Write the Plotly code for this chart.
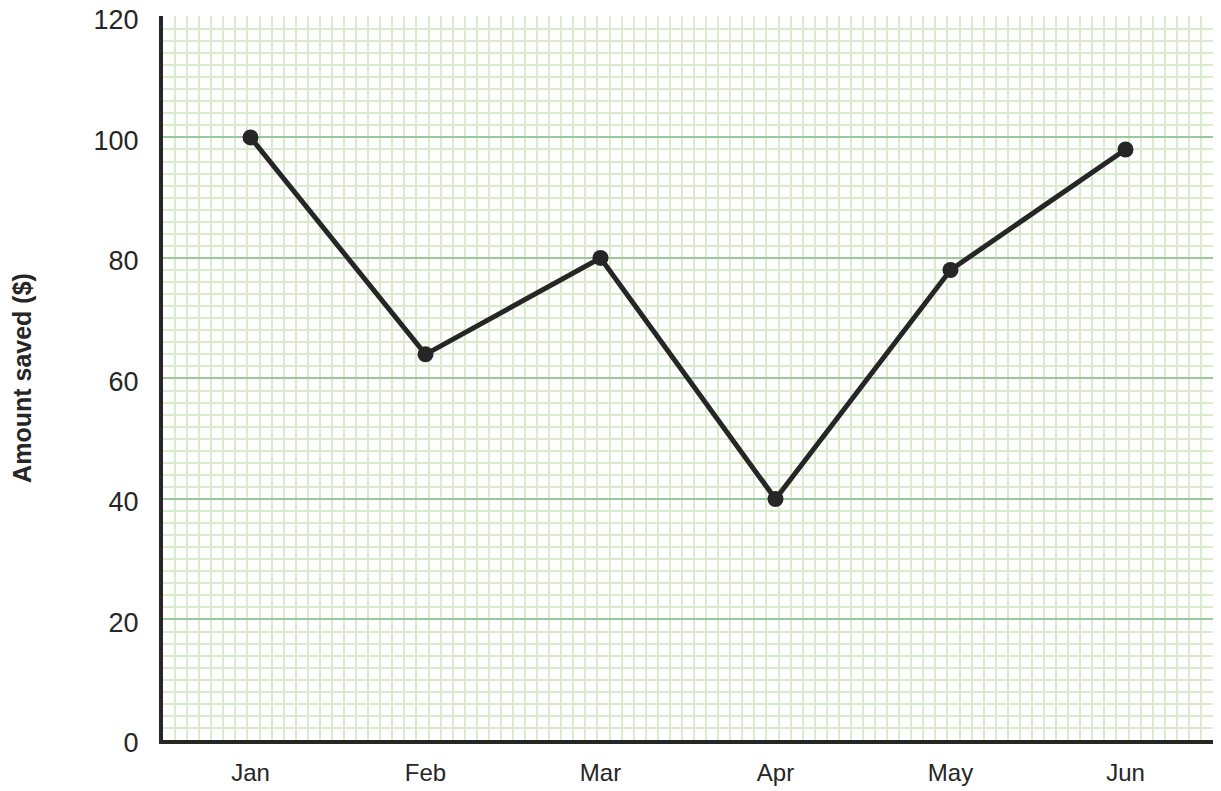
import plotly.graph_objects as go

months = ["Jan", "Feb", "Mar", "Apr", "May", "Jun"]
saved = [100, 64, 80, 40, 78, 98]
y_ticks = [0, 20, 40, 60, 80, 100, 120]

xs = list(range(len(months)))

fig = go.Figure()
fig.add_trace(go.Scatter(
    x=xs, y=saved, mode="lines+markers",
    line=dict(color="#262626", width=5),
    marker=dict(color="#262626", size=16),
    showlegend=False, cliponaxis=False,
))

# page body has an 8px default margin, so the figure is sized to fit the window
fig.update_layout(
    template="none",
    width=1213, height=783,
    margin=dict(l=155, r=8, t=8, b=51, autoexpand=False),
    paper_bgcolor="white", plot_bgcolor="white",
    font=dict(family="Liberation Sans, Arial, sans-serif", color="#262626"),
    xaxis=dict(
        range=[-0.5, 5.5], tickvals=xs, ticktext=months,
        showgrid=False, zeroline=False, automargin=False,
        showline=True, linecolor="#262626", linewidth=4,
        ticks="", ticklabelstandoff=8,
        tickfont=dict(size=24),
        minor=dict(showgrid=True, gridcolor="#d9ebcc", gridwidth=2,
                   tick0=-0.5, dtick=6/87),
    ),
    yaxis=dict(
        range=[0, 120.15], tickvals=y_ticks,
        showgrid=True, gridcolor="#9cc79a", gridwidth=2,
        zeroline=False, automargin=False,
        showline=True, linecolor="#262626", linewidth=4,
        ticks="", ticklabelstandoff=15, ticklabeloverflow="allow",
        ticklabelshift=3,
        tickfont=dict(size=27),
        minor=dict(showgrid=True, gridcolor="#d9ebcc", gridwidth=2, dtick=2, tick0=0),
        title=dict(text="<b>Amount saved ($)</b>", font=dict(size=25), standoff=74),
    ),
)

fig.write_html("out.html")
